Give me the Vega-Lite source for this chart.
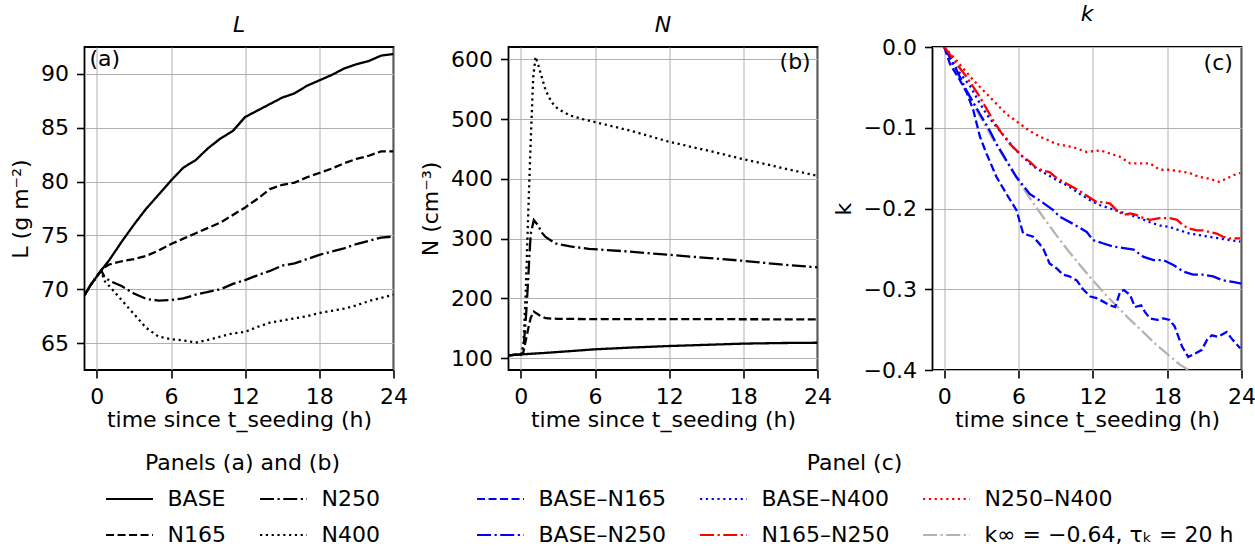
{
  "$schema": "https://vega.github.io/schema/vega-lite/v6.json",
  "padding": {"left": 8.5, "top": 2, "right": 0, "bottom": 0},
  "background": "white",
  "config": {
    "font": "DejaVu Sans",
    "view": {"stroke": "black", "strokeWidth": 1.8},
    "axis": {"labelFont": "DejaVu Sans", "labelFontSize": 22, "titleFont": "DejaVu Sans", "titleFontSize": 22, "titleFontWeight": "normal", "labelColor": "black", "titleColor": "black", "tickColor": "black", "tickWidth": 1.6, "tickSize": 8, "labelPadding": 8, "domain": false, "gridColor": "#b0b0b0", "gridWidth": 1, "gridOpacity": 1, "labelFlush": false, "labelOverlap": false, "titlePadding": 8},
    "axisX": {"titlePadding": 2},
    "title": {"font": "DejaVu Sans", "fontSize": 22, "fontStyle": "italic", "fontWeight": "normal", "color": "black", "offset": 10},
    "legend": {"labelFont": "DejaVu Sans", "titleFont": "DejaVu Sans", "labelFontSize": 22, "titleFontSize": 22, "titleFontWeight": "normal", "labelColor": "black", "titleColor": "black", "titleAnchor": "middle", "symbolType": "stroke", "symbolSize": 2200, "symbolStrokeWidth": 2.2, "rowPadding": -19, "columnPadding": 29, "labelOffset": 13, "titlePadding": -1, "labelLimit": 0, "titleLimit": 0}
  },
  "datasets": {
    "a": [
      {"run":"BASE","t":-1,"L":69.45},{"run":"BASE","t":-0.5,"L":70.4},{"run":"BASE","t":0,"L":71.2},{"run":"BASE","t":0.35,"L":71.75},{"run":"BASE","t":1,"L":72.7},{"run":"BASE","t":2,"L":74.4},{"run":"BASE","t":3,"L":76.0},{"run":"BASE","t":4,"L":77.5},{"run":"BASE","t":5,"L":78.8},{"run":"BASE","t":6,"L":80.1},{"run":"BASE","t":7,"L":81.3},{"run":"BASE","t":8,"L":82.0},{"run":"BASE","t":9,"L":83.1},{"run":"BASE","t":10,"L":84.0},{"run":"BASE","t":11,"L":84.7},{"run":"BASE","t":12,"L":86.0},{"run":"BASE","t":13,"L":86.6},{"run":"BASE","t":14,"L":87.2},{"run":"BASE","t":15,"L":87.8},{"run":"BASE","t":16,"L":88.2},{"run":"BASE","t":17,"L":88.9},{"run":"BASE","t":18,"L":89.4},{"run":"BASE","t":19,"L":89.9},{"run":"BASE","t":20,"L":90.5},{"run":"BASE","t":21,"L":90.9},{"run":"BASE","t":22,"L":91.2},{"run":"BASE","t":23,"L":91.7},{"run":"BASE","t":24,"L":91.85},
      {"run":"N165","t":-1,"L":69.45},{"run":"N165","t":-0.5,"L":70.4},{"run":"N165","t":0,"L":71.2},{"run":"N165","t":0.35,"L":71.75},{"run":"N165","t":0.7,"L":72.1},{"run":"N165","t":1,"L":72.3},{"run":"N165","t":2,"L":72.6},{"run":"N165","t":3,"L":72.8},{"run":"N165","t":4,"L":73.1},{"run":"N165","t":5,"L":73.6},{"run":"N165","t":6,"L":74.2},{"run":"N165","t":7,"L":74.7},{"run":"N165","t":8,"L":75.2},{"run":"N165","t":9,"L":75.7},{"run":"N165","t":10,"L":76.2},{"run":"N165","t":11,"L":76.9},{"run":"N165","t":12,"L":77.6},{"run":"N165","t":13,"L":78.4},{"run":"N165","t":14,"L":79.3},{"run":"N165","t":15,"L":79.7},{"run":"N165","t":16,"L":79.9},{"run":"N165","t":17,"L":80.4},{"run":"N165","t":18,"L":80.8},{"run":"N165","t":19,"L":81.2},{"run":"N165","t":20,"L":81.7},{"run":"N165","t":21,"L":82.1},{"run":"N165","t":22,"L":82.4},{"run":"N165","t":23,"L":82.8},{"run":"N165","t":24,"L":82.8},
      {"run":"N250","t":-1,"L":69.45},{"run":"N250","t":-0.5,"L":70.4},{"run":"N250","t":0,"L":71.2},{"run":"N250","t":0.35,"L":71.75},{"run":"N250","t":0.6,"L":71.2},{"run":"N250","t":1,"L":70.8},{"run":"N250","t":2,"L":70.3},{"run":"N250","t":3,"L":69.6},{"run":"N250","t":4,"L":69.1},{"run":"N250","t":5,"L":68.95},{"run":"N250","t":6,"L":69.0},{"run":"N250","t":7,"L":69.15},{"run":"N250","t":8,"L":69.5},{"run":"N250","t":9,"L":69.75},{"run":"N250","t":10,"L":70.0},{"run":"N250","t":11,"L":70.5},{"run":"N250","t":12,"L":70.85},{"run":"N250","t":13,"L":71.3},{"run":"N250","t":14,"L":71.7},{"run":"N250","t":15,"L":72.2},{"run":"N250","t":16,"L":72.4},{"run":"N250","t":17,"L":72.8},{"run":"N250","t":18,"L":73.2},{"run":"N250","t":19,"L":73.5},{"run":"N250","t":20,"L":73.8},{"run":"N250","t":21,"L":74.2},{"run":"N250","t":22,"L":74.5},{"run":"N250","t":23,"L":74.8},{"run":"N250","t":24,"L":74.9},
      {"run":"N400","t":-1,"L":69.45},{"run":"N400","t":-0.5,"L":70.4},{"run":"N400","t":0,"L":71.2},{"run":"N400","t":0.35,"L":71.75},{"run":"N400","t":0.6,"L":70.8},{"run":"N400","t":1,"L":70.3},{"run":"N400","t":2,"L":69.0},{"run":"N400","t":3,"L":67.7},{"run":"N400","t":4,"L":66.4},{"run":"N400","t":5,"L":65.6},{"run":"N400","t":6,"L":65.35},{"run":"N400","t":7,"L":65.25},{"run":"N400","t":8,"L":65.05},{"run":"N400","t":9,"L":65.3},{"run":"N400","t":10,"L":65.6},{"run":"N400","t":11,"L":65.9},{"run":"N400","t":12,"L":66.05},{"run":"N400","t":13,"L":66.5},{"run":"N400","t":14,"L":66.9},{"run":"N400","t":15,"L":67.1},{"run":"N400","t":16,"L":67.3},{"run":"N400","t":17,"L":67.5},{"run":"N400","t":18,"L":67.8},{"run":"N400","t":19,"L":68.0},{"run":"N400","t":20,"L":68.2},{"run":"N400","t":21,"L":68.5},{"run":"N400","t":22,"L":68.9},{"run":"N400","t":23,"L":69.2},{"run":"N400","t":24,"L":69.5}
    ],
    "b": [
      {"run":"BASE","t":-1,"N":105},{"run":"BASE","t":0,"N":106.5},{"run":"BASE","t":2,"N":109},{"run":"BASE","t":4,"N":112},{"run":"BASE","t":6,"N":115},{"run":"BASE","t":9,"N":118},{"run":"BASE","t":12,"N":120.5},{"run":"BASE","t":15,"N":122.5},{"run":"BASE","t":18,"N":124.5},{"run":"BASE","t":21,"N":125.5},{"run":"BASE","t":24,"N":126},
      {"run":"N165","t":-1,"N":105},{"run":"N165","t":0,"N":106.5},{"run":"N165","t":0.2,"N":110},{"run":"N165","t":0.4,"N":130},{"run":"N165","t":0.6,"N":150},{"run":"N165","t":0.8,"N":168},{"run":"N165","t":1.05,"N":178},{"run":"N165","t":1.5,"N":172},{"run":"N165","t":2,"N":167},{"run":"N165","t":2.5,"N":166.3},{"run":"N165","t":3,"N":166},{"run":"N165","t":6,"N":165.5},{"run":"N165","t":12,"N":165.5},{"run":"N165","t":18,"N":165.3},{"run":"N165","t":24,"N":165},
      {"run":"N250","t":-1,"N":105},{"run":"N250","t":0,"N":106.5},{"run":"N250","t":0.25,"N":125},{"run":"N250","t":0.43,"N":175},{"run":"N250","t":0.59,"N":230},{"run":"N250","t":0.7,"N":275},{"run":"N250","t":0.8,"N":308},{"run":"N250","t":1.05,"N":331},{"run":"N250","t":1.4,"N":322},{"run":"N250","t":1.7,"N":310},{"run":"N250","t":2,"N":303},{"run":"N250","t":2.8,"N":292},{"run":"N250","t":4,"N":287},{"run":"N250","t":5.5,"N":283},{"run":"N250","t":8.4,"N":279},{"run":"N250","t":12,"N":273},{"run":"N250","t":15,"N":268},{"run":"N250","t":18,"N":263},{"run":"N250","t":21,"N":257},{"run":"N250","t":24,"N":252},
      {"run":"N400","t":-1,"N":105},{"run":"N400","t":0,"N":106.5},{"run":"N400","t":0.2,"N":118},{"run":"N400","t":0.4,"N":215},{"run":"N400","t":0.6,"N":345},{"run":"N400","t":0.8,"N":465},{"run":"N400","t":1.0,"N":570},{"run":"N400","t":1.19,"N":604},{"run":"N400","t":1.46,"N":587},{"run":"N400","t":2,"N":548},{"run":"N400","t":2.5,"N":528},{"run":"N400","t":3,"N":517},{"run":"N400","t":4,"N":506},{"run":"N400","t":5,"N":500},{"run":"N400","t":6,"N":495},{"run":"N400","t":9,"N":480},{"run":"N400","t":12,"N":462},{"run":"N400","t":15,"N":448},{"run":"N400","t":18,"N":433},{"run":"N400","t":21,"N":419},{"run":"N400","t":24,"N":405}
    ],
    "c": [
      {"pair":"k∞ = −0.64, τₖ = 20 h","t":0,"k":0},{"pair":"k∞ = −0.64, τₖ = 20 h","t":1,"k":-0.0312},{"pair":"k∞ = −0.64, τₖ = 20 h","t":2,"k":-0.0609},{"pair":"k∞ = −0.64, τₖ = 20 h","t":3,"k":-0.0892},{"pair":"k∞ = −0.64, τₖ = 20 h","t":4,"k":-0.116},{"pair":"k∞ = −0.64, τₖ = 20 h","t":5,"k":-0.1416},{"pair":"k∞ = −0.64, τₖ = 20 h","t":6,"k":-0.166},{"pair":"k∞ = −0.64, τₖ = 20 h","t":7,"k":-0.1891},{"pair":"k∞ = −0.64, τₖ = 20 h","t":8,"k":-0.211},{"pair":"k∞ = −0.64, τₖ = 20 h","t":9,"k":-0.2321},{"pair":"k∞ = −0.64, τₖ = 20 h","t":10,"k":-0.252},{"pair":"k∞ = −0.64, τₖ = 20 h","t":11,"k":-0.271},{"pair":"k∞ = −0.64, τₖ = 20 h","t":12,"k":-0.289},{"pair":"k∞ = −0.64, τₖ = 20 h","t":13,"k":-0.3063},{"pair":"k∞ = −0.64, τₖ = 20 h","t":14,"k":-0.322},{"pair":"k∞ = −0.64, τₖ = 20 h","t":15,"k":-0.3377},{"pair":"k∞ = −0.64, τₖ = 20 h","t":16,"k":-0.352},{"pair":"k∞ = −0.64, τₖ = 20 h","t":17,"k":-0.367},{"pair":"k∞ = −0.64, τₖ = 20 h","t":18,"k":-0.38},{"pair":"k∞ = −0.64, τₖ = 20 h","t":19,"k":-0.393},{"pair":"k∞ = −0.64, τₖ = 20 h","t":19.7,"k":-0.4},
      {"pair":"BASE–N165","t":0,"k":0},{"pair":"BASE–N165","t":0.46,"k":-0.021},{"pair":"BASE–N165","t":0.86,"k":-0.031},{"pair":"BASE–N165","t":1.26,"k":-0.041},{"pair":"BASE–N165","t":1.8,"k":-0.056},{"pair":"BASE–N165","t":2.34,"k":-0.078},{"pair":"BASE–N165","t":2.88,"k":-0.111},{"pair":"BASE–N165","t":3.41,"k":-0.132},{"pair":"BASE–N165","t":4.22,"k":-0.161},{"pair":"BASE–N165","t":5.02,"k":-0.182},{"pair":"BASE–N165","t":5.83,"k":-0.202},{"pair":"BASE–N165","t":6.37,"k":-0.231},{"pair":"BASE–N165","t":7.18,"k":-0.235},{"pair":"BASE–N165","t":7.7,"k":-0.244},{"pair":"BASE–N165","t":8.0,"k":-0.25},{"pair":"BASE–N165","t":8.5,"k":-0.268},{"pair":"BASE–N165","t":9.06,"k":-0.274},{"pair":"BASE–N165","t":9.6,"k":-0.282},{"pair":"BASE–N165","t":10.1,"k":-0.284},{"pair":"BASE–N165","t":10.7,"k":-0.289},{"pair":"BASE–N165","t":11.2,"k":-0.3},{"pair":"BASE–N165","t":11.8,"k":-0.309},{"pair":"BASE–N165","t":12.3,"k":-0.311},{"pair":"BASE–N165","t":12.8,"k":-0.315},{"pair":"BASE–N165","t":13.4,"k":-0.32},{"pair":"BASE–N165","t":13.8,"k":-0.322},{"pair":"BASE–N165","t":14.2,"k":-0.303},{"pair":"BASE–N165","t":14.5,"k":-0.301},{"pair":"BASE–N165","t":15.0,"k":-0.307},{"pair":"BASE–N165","t":15.4,"k":-0.322},{"pair":"BASE–N165","t":15.9,"k":-0.32},{"pair":"BASE–N165","t":16.2,"k":-0.328},{"pair":"BASE–N165","t":16.6,"k":-0.336},{"pair":"BASE–N165","t":17.2,"k":-0.338},{"pair":"BASE–N165","t":17.7,"k":-0.336},{"pair":"BASE–N165","t":18.2,"k":-0.338},{"pair":"BASE–N165","t":18.6,"k":-0.346},{"pair":"BASE–N165","t":19.2,"k":-0.371},{"pair":"BASE–N165","t":19.7,"k":-0.384},{"pair":"BASE–N165","t":20.2,"k":-0.38},{"pair":"BASE–N165","t":20.8,"k":-0.375},{"pair":"BASE–N165","t":21.2,"k":-0.363},{"pair":"BASE–N165","t":21.6,"k":-0.357},{"pair":"BASE–N165","t":22.1,"k":-0.359},{"pair":"BASE–N165","t":22.8,"k":-0.353},{"pair":"BASE–N165","t":23.3,"k":-0.363},{"pair":"BASE–N165","t":23.9,"k":-0.373},
      {"pair":"BASE–N250","t":0,"k":0},{"pair":"BASE–N250","t":0.73,"k":-0.02},{"pair":"BASE–N250","t":1.8,"k":-0.054},{"pair":"BASE–N250","t":2.88,"k":-0.083},{"pair":"BASE–N250","t":3.55,"k":-0.1},{"pair":"BASE–N250","t":4.22,"k":-0.12},{"pair":"BASE–N250","t":5.0,"k":-0.14},{"pair":"BASE–N250","t":5.83,"k":-0.161},{"pair":"BASE–N250","t":6.9,"k":-0.182},{"pair":"BASE–N250","t":7.7,"k":-0.19},{"pair":"BASE–N250","t":8.8,"k":-0.202},{"pair":"BASE–N250","t":9.3,"k":-0.21},{"pair":"BASE–N250","t":10.4,"k":-0.219},{"pair":"BASE–N250","t":11.5,"k":-0.229},{"pair":"BASE–N250","t":12.0,"k":-0.239},{"pair":"BASE–N250","t":12.8,"k":-0.243},{"pair":"BASE–N250","t":13.6,"k":-0.247},{"pair":"BASE–N250","t":14.5,"k":-0.249},{"pair":"BASE–N250","t":15.3,"k":-0.251},{"pair":"BASE–N250","t":16.1,"k":-0.26},{"pair":"BASE–N250","t":16.9,"k":-0.264},{"pair":"BASE–N250","t":17.7,"k":-0.264},{"pair":"BASE–N250","t":18.5,"k":-0.27},{"pair":"BASE–N250","t":19.3,"k":-0.278},{"pair":"BASE–N250","t":20.1,"k":-0.282},{"pair":"BASE–N250","t":20.9,"k":-0.282},{"pair":"BASE–N250","t":21.7,"k":-0.284},{"pair":"BASE–N250","t":22.5,"k":-0.289},{"pair":"BASE–N250","t":23.3,"k":-0.291},{"pair":"BASE–N250","t":24,"k":-0.293},
      {"pair":"BASE–N400","t":0,"k":0},{"pair":"BASE–N400","t":0.7,"k":-0.021},{"pair":"BASE–N400","t":1.4,"k":-0.035},{"pair":"BASE–N400","t":2.07,"k":-0.048},{"pair":"BASE–N400","t":2.88,"k":-0.07},{"pair":"BASE–N400","t":3.5,"k":-0.085},{"pair":"BASE–N400","t":4.22,"k":-0.099},{"pair":"BASE–N400","t":5.0,"k":-0.113},{"pair":"BASE–N400","t":5.56,"k":-0.124},{"pair":"BASE–N400","t":6.2,"k":-0.134},{"pair":"BASE–N400","t":6.9,"k":-0.144},{"pair":"BASE–N400","t":7.5,"k":-0.151},{"pair":"BASE–N400","t":8.2,"k":-0.157},{"pair":"BASE–N400","t":9.1,"k":-0.165},{"pair":"BASE–N400","t":10.1,"k":-0.173},{"pair":"BASE–N400","t":10.95,"k":-0.182},{"pair":"BASE–N400","t":11.8,"k":-0.19},{"pair":"BASE–N400","t":12.6,"k":-0.196},{"pair":"BASE–N400","t":13.4,"k":-0.2},{"pair":"BASE–N400","t":14.2,"k":-0.204},{"pair":"BASE–N400","t":15.0,"k":-0.208},{"pair":"BASE–N400","t":15.8,"k":-0.212},{"pair":"BASE–N400","t":16.6,"k":-0.217},{"pair":"BASE–N400","t":17.4,"k":-0.221},{"pair":"BASE–N400","t":18.2,"k":-0.223},{"pair":"BASE–N400","t":19.0,"k":-0.227},{"pair":"BASE–N400","t":19.8,"k":-0.231},{"pair":"BASE–N400","t":20.6,"k":-0.233},{"pair":"BASE–N400","t":21.4,"k":-0.235},{"pair":"BASE–N400","t":22.2,"k":-0.237},{"pair":"BASE–N400","t":23.0,"k":-0.239},{"pair":"BASE–N400","t":23.9,"k":-0.241},
      {"pair":"N165–N250","t":0,"k":0},{"pair":"N165–N250","t":0.2,"k":-0.004},{"pair":"N165–N250","t":1.0,"k":-0.021},{"pair":"N165–N250","t":1.8,"k":-0.037},{"pair":"N165–N250","t":2.88,"k":-0.062},{"pair":"N165–N250","t":3.95,"k":-0.091},{"pair":"N165–N250","t":4.6,"k":-0.106},{"pair":"N165–N250","t":5.29,"k":-0.12},{"pair":"N165–N250","t":6.37,"k":-0.136},{"pair":"N165–N250","t":6.9,"k":-0.142},{"pair":"N165–N250","t":7.45,"k":-0.15},{"pair":"N165–N250","t":7.98,"k":-0.153},{"pair":"N165–N250","t":8.5,"k":-0.155},{"pair":"N165–N250","t":9.06,"k":-0.162},{"pair":"N165–N250","t":9.86,"k":-0.169},{"pair":"N165–N250","t":10.9,"k":-0.178},{"pair":"N165–N250","t":11.7,"k":-0.186},{"pair":"N165–N250","t":12.3,"k":-0.192},{"pair":"N165–N250","t":12.8,"k":-0.192},{"pair":"N165–N250","t":13.4,"k":-0.194},{"pair":"N165–N250","t":13.9,"k":-0.202},{"pair":"N165–N250","t":14.5,"k":-0.208},{"pair":"N165–N250","t":15.0,"k":-0.206},{"pair":"N165–N250","t":15.5,"k":-0.208},{"pair":"N165–N250","t":16.1,"k":-0.212},{"pair":"N165–N250","t":16.6,"k":-0.214},{"pair":"N165–N250","t":17.4,"k":-0.212},{"pair":"N165–N250","t":18.2,"k":-0.212},{"pair":"N165–N250","t":18.8,"k":-0.214},{"pair":"N165–N250","t":19.3,"k":-0.221},{"pair":"N165–N250","t":19.8,"k":-0.225},{"pair":"N165–N250","t":20.4,"k":-0.227},{"pair":"N165–N250","t":20.9,"k":-0.227},{"pair":"N165–N250","t":21.4,"k":-0.229},{"pair":"N165–N250","t":22.0,"k":-0.231},{"pair":"N165–N250","t":22.5,"k":-0.235},{"pair":"N165–N250","t":23.0,"k":-0.237},{"pair":"N165–N250","t":23.9,"k":-0.237},
      {"pair":"N250–N400","t":0,"k":0},{"pair":"N250–N400","t":1.0,"k":-0.017},{"pair":"N250–N400","t":2.34,"k":-0.041},{"pair":"N250–N400","t":3.68,"k":-0.062},{"pair":"N250–N400","t":5.02,"k":-0.083},{"pair":"N250–N400","t":6.1,"k":-0.095},{"pair":"N250–N400","t":6.9,"k":-0.104},{"pair":"N250–N400","t":7.7,"k":-0.111},{"pair":"N250–N400","t":8.5,"k":-0.116},{"pair":"N250–N400","t":9.0,"k":-0.12},{"pair":"N250–N400","t":10.4,"k":-0.124},{"pair":"N250–N400","t":11.5,"k":-0.13},{"pair":"N250–N400","t":12.6,"k":-0.128},{"pair":"N250–N400","t":13.4,"k":-0.132},{"pair":"N250–N400","t":14.2,"k":-0.136},{"pair":"N250–N400","t":15.0,"k":-0.144},{"pair":"N250–N400","t":15.8,"k":-0.144},{"pair":"N250–N400","t":16.6,"k":-0.144},{"pair":"N250–N400","t":17.4,"k":-0.152},{"pair":"N250–N400","t":18.2,"k":-0.152},{"pair":"N250–N400","t":19.0,"k":-0.154},{"pair":"N250–N400","t":19.8,"k":-0.156},{"pair":"N250–N400","t":20.6,"k":-0.161},{"pair":"N250–N400","t":21.4,"k":-0.163},{"pair":"N250–N400","t":22.2,"k":-0.167},{"pair":"N250–N400","t":22.8,"k":-0.163},{"pair":"N250–N400","t":23.3,"k":-0.159},{"pair":"N250–N400","t":23.9,"k":-0.156}
    ]
  },
  "spacing": 115,
  "bounds": "flush",
  "resolve": {"scale": {"strokeDash": "independent", "color": "independent"}, "legend": {"strokeDash": "independent", "color": "independent"}},
  "hconcat": [
    {
      "width": 309, "height": 323,
      "title": {"text": "L"},
      "layer": [
        {
          "data": {"name": "a"},
          "mark": {"type": "line", "color": "black", "strokeWidth": 2.3, "clip": true},
          "encoding": {
            "x": {"field": "t", "type": "quantitative", "scale": {"domain": [-1, 24], "nice": false, "zero": false}, "axis": {"values": [0, 6, 12, 18, 24], "title": "time since t_seeding (h)"}},
            "y": {"field": "L", "type": "quantitative", "scale": {"domain": [62.5, 92.5], "nice": false, "zero": false}, "axis": {"values": [65, 70, 75, 80, 85, 90], "title": "L (g m⁻²)"}},
            "strokeDash": {"field": "run", "type": "nominal", "scale": {"domain": ["BASE", "N165", "N250", "N400"], "range": [[1, 0], [8, 3.5], [14, 3.5, 2.2, 3.5], [2.2, 3.6]]}, "legend": {"title": "Panels (a) and (b)", "orient": "none", "legendX": 20, "legendY": 406, "columns": 2, "symbolStrokeColor": "black"}}
          }
        },
        {
          "data": {"values": [{}]},
          "mark": {"type": "text", "text": "(a)", "align": "left", "baseline": "top", "fontSize": 22, "color": "black", "font": "DejaVu Sans"},
          "encoding": {"x": {"datum": -0.6}, "y": {"datum": 92.3}}
        }
      ]
    },
    {
      "width": 309, "height": 323,
      "title": {"text": "N"},
      "layer": [
        {
          "data": {"name": "b"},
          "mark": {"type": "line", "color": "black", "strokeWidth": 2.3, "clip": true},
          "encoding": {
            "x": {"field": "t", "type": "quantitative", "scale": {"domain": [-1, 24], "nice": false, "zero": false}, "axis": {"values": [0, 6, 12, 18, 24], "title": "time since t_seeding (h)"}},
            "y": {"field": "N", "type": "quantitative", "scale": {"domain": [80.4, 620.6], "nice": false, "zero": false}, "axis": {"values": [100, 200, 300, 400, 500, 600], "title": "N (cm⁻³)"}},
            "strokeDash": {"field": "run", "type": "nominal", "scale": {"domain": ["BASE", "N165", "N250", "N400"], "range": [[1, 0], [8, 3.5], [14, 3.5, 2.2, 3.5], [2.2, 3.6]]}, "legend": null}
          }
        },
        {
          "data": {"values": [{}]},
          "mark": {"type": "text", "text": "(b)", "align": "right", "baseline": "top", "fontSize": 22, "color": "black", "font": "DejaVu Sans"},
          "encoding": {"x": {"datum": 23.45}, "y": {"datum": 613}}
        }
      ]
    },
    {
      "width": 309, "height": 323,
      "title": {"text": "k"},
      "layer": [
        {
          "data": {"name": "c"},
          "mark": {"type": "line", "strokeWidth": 2.3, "clip": true},
          "encoding": {
            "x": {"field": "t", "type": "quantitative", "scale": {"domain": [-0.95, 24], "nice": false, "zero": false}, "axis": {"values": [0, 6, 12, 18, 24], "title": "time since t_seeding (h)"}},
            "y": {"field": "k", "type": "quantitative", "scale": {"domain": [-0.4, 0], "nice": false, "zero": false}, "axis": {"values": [0, -0.1, -0.2, -0.3, -0.4], "format": ".1f", "title": "k"}},
            "color": {"field": "pair", "type": "nominal", "scale": {"domain": ["BASE–N165", "BASE–N250", "BASE–N400", "N165–N250", "N250–N400", "k∞ = −0.64, τₖ = 20 h"], "range": ["#0000ff", "#0000ff", "#0000ff", "#ff0000", "#ff0000", "#b3b3b3"]}, "legend": {"title": "Panel (c)", "orient": "none", "legendX": -457, "legendY": 406, "columns": 3}},
            "strokeDash": {"field": "pair", "type": "nominal", "scale": {"domain": ["BASE–N165", "BASE–N250", "BASE–N400", "N165–N250", "N250–N400", "k∞ = −0.64, τₖ = 20 h"], "range": [[8, 3.5], [14, 3.5, 2.2, 3.5], [2.2, 3.6], [14, 3.5, 2.2, 3.5], [2.2, 3.6], [14, 3.5, 2.2, 3.5]]}, "legend": {"title": "Panel (c)", "orient": "none", "legendX": -457, "legendY": 406, "columns": 3}}
          }
        },
        {
          "data": {"values": [{}]},
          "mark": {"type": "text", "text": "(c)", "align": "right", "baseline": "top", "fontSize": 22, "color": "black", "font": "DejaVu Sans"},
          "encoding": {"x": {"datum": 23.3}, "y": {"datum": -0.007}}
        }
      ]
    }
  ]
}
